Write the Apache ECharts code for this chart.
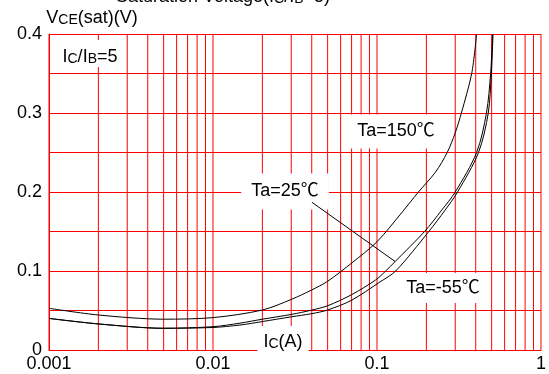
<!DOCTYPE html>
<html>
<head>
<meta charset="utf-8">
<script src="https://cdn.jsdelivr.net/npm/echarts@6/dist/echarts.min.js"></script>
<style>
    html, body { margin: 0; padding: 0; background: #fff; }
    #chart { width: 549px; height: 374px; }
</style>
</head>
<body>
<div id="chart"></div>
<script>
// Ta=150℃
const ic150 = [0.001, 0.002, 0.005, 0.01, 0.02, 0.03, 0.04, 0.05, 0.07, 0.1, 0.143, 0.179, 0.227, 0.268, 0.300, 0.327, 0.378, 0.405];
const vce150 = [0.0528, 0.0443, 0.039, 0.041, 0.0506, 0.064, 0.076, 0.087, 0.11, 0.137, 0.175, 0.2, 0.225, 0.25, 0.275, 0.3, 0.35, 0.4];
// Ta=25℃
const ic25 = [0.001, 0.002, 0.005, 0.01, 0.0146, 0.02, 0.03, 0.04, 0.05, 0.07, 0.098, 0.113, 0.129, 0.195, 0.248, 0.3, 0.405, 0.465, 0.493, 0.507];
const vce25 = [0.040, 0.033, 0.0275, 0.0295, 0.034, 0.039, 0.045, 0.0505, 0.056, 0.07, 0.0886, 0.1, 0.112, 0.15, 0.177, 0.2, 0.25, 0.3, 0.35, 0.4];
// Ta=-55℃
const icM55 = [0.001, 0.002, 0.005, 0.01, 0.0146, 0.02, 0.03, 0.04, 0.05, 0.07, 0.104, 0.13, 0.207, 0.26, 0.31, 0.416, 0.477, 0.498, 0.51];
const vceM55 = [0.040, 0.033, 0.0275, 0.0285, 0.0316, 0.036, 0.042, 0.046, 0.0506, 0.063, 0.086, 0.1, 0.15, 0.177, 0.2, 0.25, 0.3, 0.35, 0.4];

const xTicks = [0.001, 0.01, 0.1, 1];
const yTicks = [0, 0.1, 0.2, 0.3, 0.4];

// vertical grid lines: decades plus 2..9 in each decade
const xGrid = xTicks.slice();
for (let d = 0; d < xTicks.length - 1; d++) {
    for (let m = 2; m <= 9; m++) {
        xGrid.push(+(xTicks[d] * m).toPrecision(2));
    }
}

// leader line from the Ta=25℃ label to its curve
const leader25 = [[0.0401, 0.187], [0.129, 0.112]];

function pairs(xs, ys) {
    const out = [];
    for (let i = 0; i < xs.length; i++) out.push([xs[i], ys[i]]);
    return out;
}

const FONT = '"Liberation Sans", Arial, "Noto Sans CJK SC", sans-serif';
const RED = '#ff0000';
const rich = {
    a: { fontSize: 18, fontFamily: FONT, color: '#000', lineHeight: 18, verticalAlign: 'bottom' },
    s: { fontSize: 14, fontFamily: FONT, color: '#000', lineHeight: 18, verticalAlign: 'bottom' }
};

function label(text, x, y, padding, bg) {
    return {
        type: 'text',
        x: x,
        y: y,
        z: 1.5,
        style: {
            text: text,
            rich: rich,
            align: 'center',
            verticalAlign: 'middle',
            backgroundColor: bg === false ? null : '#fff',
            padding: padding
        }
    };
}

function curve(name, xs, ys) {
    return {
        name: name,
        type: 'line',
        data: pairs(xs, ys),
        showSymbol: false,
        smooth: 0.3,
        color: '#000',
        lineStyle: { color: '#000', width: 1 },
        z: 3
    };
}

// vertical grid lines drawn as plain line series
const gridSeries = xGrid.map(v => ({
    type: 'line',
    data: [[v, 0], [v, 0.4]],
    showSymbol: false,
    silent: true,
    color: RED,
    lineStyle: { color: RED, width: 1 },
    z: 1
}));

const s25 = curve('Ta=25℃', ic25, vce25);
s25.markLine = {
    silent: true,
    symbol: ['none', 'none'],
    label: { show: false },
    lineStyle: { color: '#000', width: 1, type: 'solid' },
    data: [[{ coord: leader25[0] }, { coord: leader25[1] }]]
};

const chart = echarts.init(document.getElementById('chart'));

chart.setOption({
    animation: false,
    backgroundColor: '#fff',
    grid: { left: 49, right: 6, top: 34, bottom: 24 },
    xAxis: {
        type: 'log',
        logBase: 10,
        min: 0.001,
        max: 1,
        axisLine: { show: true, lineStyle: { color: RED, width: 1 } },
        axisTick: { show: false },
        splitLine: { show: false },
        axisLabel: {
            color: '#000',
            fontSize: 18,
            fontFamily: FONT,
            margin: 5,
            formatter: function (v) {
                for (let i = 0; i < xTicks.length; i++) {
                    if (Math.abs(v - xTicks[i]) < xTicks[i] * 1e-6) return String(xTicks[i]);
                }
                return '';
            }
        }
    },
    yAxis: {
        type: 'value',
        min: 0,
        max: 0.4,
        interval: 0.05,
        axisLine: { show: true, lineStyle: { color: RED, width: 1 } },
        axisTick: { show: false },
        splitLine: { show: true, lineStyle: { color: RED, width: 1 } },
        axisLabel: {
            color: '#000',
            fontSize: 18,
            fontFamily: FONT,
            margin: 7,
            formatter: function (v) {
                for (let i = 0; i < yTicks.length; i++) {
                    if (Math.abs(v - yTicks[i]) < 1e-6) return String(yTicks[i]);
                }
                return '';
            }
        }
    },
    series: gridSeries.concat([
        curve('Ta=150℃', ic150, vce150),
        s25,
        curve('Ta=-55℃', icM55, vceM55)
    ]),
    graphic: [
        {
            type: 'text',
            x: 330,
            y: -3,
            z: 5,
            style: {
                text: '{a|Saturation Voltage(I}{s|C}{a|/I}{s|B}{a|=5)}',
                rich: rich,
                align: 'right',
                verticalAlign: 'middle'
            }
        },
        label('{a|V}{s|CE}{a|(sat)(V)}', 92, 18, 0, false),
        label('{a|I}{s|C}{a|/I}{s|B}{a|=5}', 90, 53.5, [8, 8, 1, 8]),
        label('{a|Ta=150℃}', 396, 131.5, [8, 8]),
        label('{a|Ta=25℃}', 285, 191.5, [9, 10]),
        label('{a|Ta=-55℃}', 443, 288, [6, 8]),
        label('{a|I}{s|C}{a|(A)}', 283, 339, [7, 6, 1, 6])
    ]
});
</script>
</body>
</html>
